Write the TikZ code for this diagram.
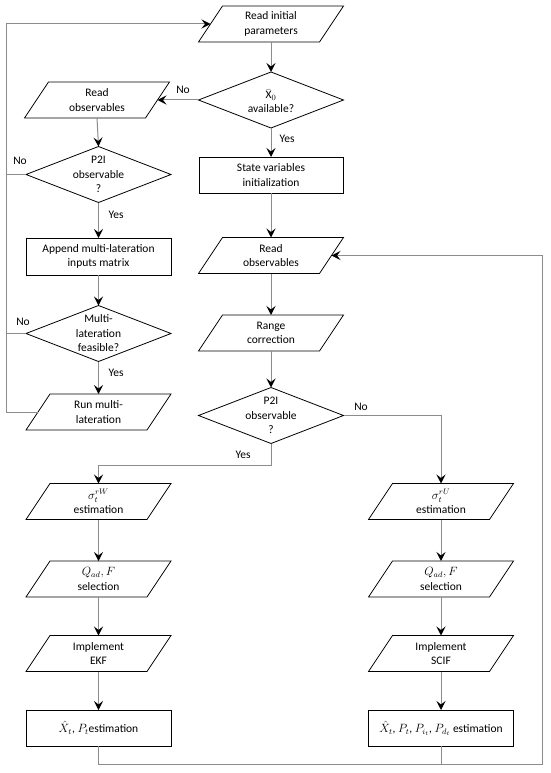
\documentclass[tikz,border=0pt]{standalone}
\usepackage{fontspec}
\setmainfont{Carlito}
\usetikzlibrary{shapes.geometric,arrows.meta,calc}
\definecolor{conn}{RGB}{140,140,140}
\tikzset{
  x=1pt, y=-1pt,
  boxline/.style={draw=black, line width=0.8pt},
  ptxt/.style={rectangle, minimum width=121pt, minimum height=36pt, inner sep=0pt, outer sep=0pt, align=center, font=\fontsize{11.5}{14.5}\selectfont},
  rbox/.style={rectangle, boxline, minimum width=145pt, minimum height=36pt, inner sep=0pt, outer sep=0pt, align=center, font=\fontsize{11.5}{14.5}\selectfont},
  dia/.style={diamond, boxline, minimum width=145pt, minimum height=56pt, inner sep=0pt, outer sep=0pt},
  dtxt/.style={align=center, inner sep=0pt, font=\fontsize{11.5}{14.5}\selectfont},
  lbl/.style={inner sep=0pt, font=\fontsize{11.5}{13}\selectfont},
  conline/.style={draw=conn, line width=1pt},
  arr/.style={conline, -{Stealth[black, length=9pt, width=9pt, inset=3.5pt]}}
}
\newcommand{\pgm}[4]{%
  \node[ptxt] (#1) at (#2,#3) {#4};
  \draw[boxline] ([xshift=-12pt]#1.south west) -- ([xshift=12pt]#1.north west) -- ([xshift=12pt]#1.north east) -- ([xshift=-12pt]#1.south east) -- cycle;}
\begin{document}
\begin{tikzpicture}
\useasboundingbox (0,0) rectangle (550,773);
% middle column
\pgm{rip}{271}{24}{Read initial\\parameters}
\node[dia] (x0) at (271,100) {};
\node[dtxt] (x0t) at (271,101) {$\bar{\mbox{X}}_0$\\[-1pt]available?};
\node[rbox, minimum width=144pt] (svi) at (271,175) {State variables\\initialization};
\pgm{ror}{271}{255.5}{Read\\observables}
\pgm{rc}{271}{333}{Range\\correction}
\node[dia] (p2ir) at (271,415.5) {};
\node[dtxt] (p2irt) at (271,415.5) {P2I\\observable\\?};
% left column
\pgm{rol}{97}{100}{Read\\observables}
\node[dia] (p2il) at (98.5,174.5) {};
\node[dtxt] (p2ilt) at (98.5,174.5) {P2I\\observable\\?};
\node[rbox, minimum height=37pt] (app) at (98.5,256.5) {Append multi-lateration\\inputs matrix};
\node[dia] (mlf) at (98.5,333.5) {};
\node[dtxt] (mlft) at (98.5,333.5) {Multi-\\lateration\\feasible?};
\pgm{rml}{98.5}{412}{Run multi-\\lateration}
% bottom left
\pgm{sw}{98.5}{501.5}{$\sigma_t^{rW}$\\estimation}
\pgm{qw}{98.5}{579}{$Q_{ad}, F$\\selection}
\pgm{iw}{98.5}{653.5}{Implement\\EKF}
\node[rbox] (ew) at (98.5,728) {$\hat{X}_t$, $P_t$estimation};
% bottom right
\pgm{su}{441}{501.5}{$\sigma_t^{rU}$\\estimation}
\pgm{qu}{441}{579}{$Q_{ad}, F$\\selection}
\pgm{iu}{441}{653.5}{Implement\\SCIF}
\node[rbox] (eu) at (441,728) {$\hat{X}_t$, $P_t$, $P_{i_t}$, $P_{d_t}$ estimation};
% coordinates
\coordinate (lx1) at (6,174.5);
\coordinate (lx2) at (6,333.5);
\coordinate (lx3) at (6,412);
\coordinate (lx4) at (6,24);
\coordinate (yj) at (98.5,465);
\coordinate (bl) at (98.5,764);
\coordinate (br) at (542,764);
\coordinate (tr) at (542,255.5);
\coordinate (bu) at (441,764);
% connectors
\draw[arr] (rip.south) -- (x0.north);
\draw[arr] (x0.west) -- (rol.east);
\draw[arr] (x0.south) -- (svi.north);
\draw[arr] (rol.south) -- (p2il.north);
\draw[arr] (p2il.south) -- (app.north);
\draw[arr] (app.south) -- (mlf.north);
\draw[arr] (mlf.south) -- (rml.north);
\draw[conline] (p2il.west) -- (lx1);
\draw[conline] (mlf.west) -- (lx2);
\draw[arr] (rml.west) -- (lx3) -- (lx4) -- (rip.west);
\draw[arr] (svi.south) -- (ror.north);
\draw[arr] (ror.south) -- (rc.north);
\draw[arr] (rc.south) -- (p2ir.north);
\draw[arr] (p2ir.east) -| (su.north);
\draw[arr] (p2ir.south) |- (yj) -- (sw.north);
\draw[arr] (sw.south) -- (qw.north);
\draw[arr] (qw.south) -- (iw.north);
\draw[arr] (iw.south) -- (ew.north);
\draw[arr] (su.south) -- (qu.north);
\draw[arr] (qu.south) -- (iu.north);
\draw[arr] (iu.south) -- (eu.north);
\draw[arr] (ew.south) -- (bl) -- (br) -- (tr) -- (ror.east);
\draw[conline] (eu.south) -- (bu);
% labels
\node[lbl] (l1) at (183,90) {No};
\node[lbl] (l2) at (287,139) {Yes};
\node[lbl] (l3) at (20,161) {No};
\node[lbl] (l4) at (116,215) {Yes};
\node[lbl] (l5) at (23,322) {No};
\node[lbl] (l6) at (116,373) {Yes};
\node[lbl] (l7) at (361,407) {No};
\node[lbl] (l8) at (243,455) {Yes};
\end{tikzpicture}
\end{document}
